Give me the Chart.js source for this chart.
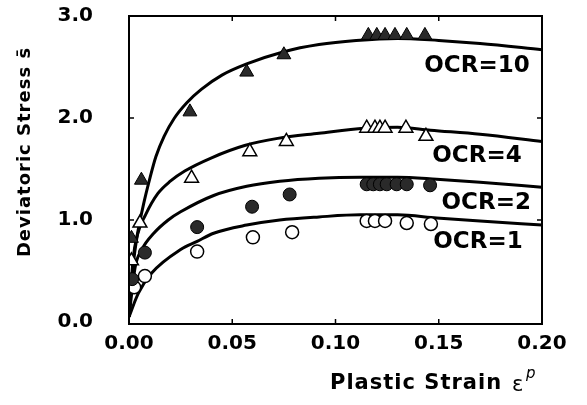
<!DOCTYPE html>
<html><head><meta charset="utf-8">
<script src="https://cdn.jsdelivr.net/npm/chart.js@4.4.1/dist/chart.umd.min.js"></script>
<style>html,body{margin:0;padding:0;background:#fff}#wrap{width:587px;height:405px;position:relative}</style>
</head><body><div id="wrap"><canvas id="c" width="587" height="405"></canvas></div>
<script>
// Tick labels
const xTicks = [0, 0.05, 0.10, 0.15, 0.20];
const yTicks = [0, 1, 2, 3];

// Measured points (symbols)
const ocr10PtsX = [0.0012, 0.006, 0.0295, 0.057, 0.075, 0.1159, 0.120, 0.124, 0.1288, 0.1345, 0.1433];
const ocr10PtsY = [0.82, 1.39, 2.06, 2.45, 2.62, 2.81, 2.81, 2.81, 2.81, 2.81, 2.81];
const ocr4PtsX = [0.0012, 0.0053, 0.0303, 0.0585, 0.0762, 0.1151, 0.1191, 0.1215, 0.124, 0.1341, 0.1438];
const ocr4PtsY = [0.60, 0.97, 1.41, 1.67, 1.77, 1.90, 1.90, 1.90, 1.90, 1.90, 1.82];
const ocr2PtsX = [0.0015, 0.0077, 0.033, 0.0596, 0.0778, 0.1151, 0.1183, 0.1215, 0.1248, 0.1296, 0.1345, 0.1458];
const ocr2PtsY = [0.42, 0.68, 0.93, 1.13, 1.25, 1.35, 1.35, 1.35, 1.35, 1.35, 1.35, 1.34];
const ocr1PtsX = [0.0025, 0.0077, 0.033, 0.060, 0.079, 0.1151, 0.1191, 0.124, 0.1345, 0.1462];
const ocr1PtsY = [0.34, 0.45, 0.69, 0.83, 0.88, 0.99, 0.99, 0.99, 0.97, 0.96];

// Model curves
const ocr10CurveX = [0, 0.002, 0.004, 0.007, 0.010, 0.013, 0.017, 0.022, 0.028, 0.035, 0.045, 0.057, 0.075, 0.092, 0.110, 0.130, 0.150, 0.170, 0.200];
const ocr10CurveY = [0.05, 0.55, 0.85, 1.15, 1.40, 1.62, 1.82, 2.00, 2.15, 2.28, 2.42, 2.53, 2.65, 2.72, 2.76, 2.78, 2.76, 2.73, 2.67];
const ocr4CurveX = [0, 0.002, 0.004, 0.008, 0.014, 0.020, 0.027, 0.040, 0.056, 0.072, 0.092, 0.114, 0.130, 0.146, 0.170, 0.200];
const ocr4CurveY = [0.05, 0.62, 0.85, 1.05, 1.26, 1.38, 1.48, 1.61, 1.73, 1.80, 1.85, 1.90, 1.91, 1.88, 1.84, 1.77];
const ocr2CurveX = [0, 0.003, 0.0062, 0.012, 0.019, 0.025, 0.041, 0.057, 0.073, 0.092, 0.112, 0.130, 0.149, 0.170, 0.200];
const ocr2CurveY = [0.05, 0.54, 0.71, 0.87, 1.00, 1.08, 1.24, 1.33, 1.38, 1.41, 1.42, 1.42, 1.40, 1.37, 1.32];
const ocr1CurveX = [0, 0.0045, 0.011, 0.025, 0.033, 0.041, 0.057, 0.073, 0.092, 0.112, 0.130, 0.149, 0.170, 0.200];
const ocr1CurveY = [0.05, 0.28, 0.48, 0.71, 0.79, 0.87, 0.95, 1.00, 1.03, 1.05, 1.05, 1.02, 0.99, 0.95];

const seriesLabels = ['OCR=10', 'OCR=4', 'OCR=2', 'OCR=1'];

const zip = (xs, ys) => xs.map((x, i) => ({x, y: ys[i]}));
const FONT = "'DejaVu Sans', sans-serif";

function curve(xs, ys) {
  return {type: 'line', data: zip(xs, ys), showLine: true, pointRadius: 0, borderColor: '#000', borderWidth: 3,
    tension: 0.4, cubicInterpolationMode: 'monotone', fill: false, order: 2};
}
function pts(xs, ys, style, filled, r) {
  return {type: 'scatter', data: zip(xs, ys), showLine: false, pointStyle: style, pointRadius: r,
    pointBackgroundColor: filled ? '#2a2a2a' : '#fff', pointBorderColor: '#000', pointBorderWidth: filled ? 1 : 1.5, order: 1};
}

const decor = {
  id: 'decor',
  afterDraw(chart) {
    const ctx = chart.ctx, a = chart.chartArea, xs = chart.scales.x, ys = chart.scales.y;
    ctx.save();
    ctx.strokeStyle = '#000'; ctx.lineWidth = 2;
    ctx.strokeRect(a.left, a.top, a.right - a.left, a.bottom - a.top);
    ctx.lineWidth = 1.5;
    [0.05, 0.10, 0.15].forEach(v => {
      const p = xs.getPixelForValue(v);
      ctx.beginPath(); ctx.moveTo(p, a.bottom); ctx.lineTo(p, a.bottom - 5);
      ctx.moveTo(p, a.top); ctx.lineTo(p, a.top + 5); ctx.stroke();
    });
    [1, 2].forEach(v => {
      const p = ys.getPixelForValue(v);
      ctx.beginPath(); ctx.moveTo(a.left, p); ctx.lineTo(a.left + 5, p);
      ctx.moveTo(a.right, p); ctx.lineTo(a.right - 5, p); ctx.stroke();
    });
    // series labels
    ctx.fillStyle = '#000';
    ctx.font = 'bold 23px ' + FONT;
    ctx.textAlign = 'center'; ctx.textBaseline = 'middle';
    const lp = [[0.1685, 2.51], [0.1685, 1.63], [0.173, 1.17], [0.169, 0.78]];
    seriesLabels.forEach((t, i) => ctx.fillText(t, xs.getPixelForValue(lp[i][0]), ys.getPixelForValue(lp[i][1])));
    // y title
    ctx.save();
    ctx.translate(25, 152); ctx.rotate(-Math.PI / 2);
    ctx.font = 'bold 18px ' + FONT;
    try { ctx.letterSpacing = '1px'; } catch (e) {}
    ctx.fillText('Deviatoric Stress s\u0304', 0, 0);
    ctx.restore();
    // x title
    ctx.font = 'bold 21px ' + FONT;
    try { ctx.letterSpacing = '1px'; } catch (e) {}
    ctx.textAlign = 'left';
    ctx.fillText('Plastic Strain', 330, 384);
    try { ctx.letterSpacing = '0px'; } catch (e) {}
    ctx.font = '21px ' + FONT;
    ctx.fillText('\u03b5', 512, 386);
    ctx.font = 'italic 15px ' + FONT;
    ctx.fillText('p', 526, 374);
    ctx.restore();
  }
};

new Chart(document.getElementById('c'), {
  type: 'scatter',
  data: {
    datasets: [
      curve(ocr10CurveX, ocr10CurveY), curve(ocr4CurveX, ocr4CurveY),
      curve(ocr2CurveX, ocr2CurveY), curve(ocr1CurveX, ocr1CurveY),
      pts(ocr10PtsX, ocr10PtsY, 'triangle', true, 8), pts(ocr4PtsX, ocr4PtsY, 'triangle', false, 8),
      pts(ocr2PtsX, ocr2PtsY, 'circle', true, 6.5), pts(ocr1PtsX, ocr1PtsY, 'circle', false, 6.5)
    ]
  },
  options: {
    responsive: false, animation: false, devicePixelRatio: 1,
    layout: {padding: {top: 16, right: 45, left: 0, bottom: 0}},
    plugins: {legend: {display: false}, tooltip: {enabled: false}},
    scales: {
      x: {type: 'linear', position: 'bottom', min: 0, max: 0.2,
        afterBuildTicks: s => { s.ticks = xTicks.map(v => ({value: v})); },
        afterFit: s => { s.height = 81; s.paddingLeft = 0; s.paddingRight = 0; },
        ticks: {autoSkip: false, maxRotation: 0, padding: 8, color: '#000',
          font: {family: FONT, weight: 'bold', size: 20}, callback: v => Number(v).toFixed(2)},
        grid: {display: false, drawTicks: false}, border: {display: false}},
      y: {type: 'linear', position: 'left', min: -0.02, max: 3,
        afterBuildTicks: s => { s.ticks = yTicks.map(v => ({value: v})); },
        afterFit: s => { s.width = 129; s.paddingTop = 0; s.paddingBottom = 0; },
        ticks: {autoSkip: false, padding: 36, color: '#000',
          font: {family: FONT, weight: 'bold', size: 20}, callback: v => Number(v).toFixed(1)},
        grid: {display: false, drawTicks: false}, border: {display: false}}
    }
  },
  plugins: [decor]
});
</script></body></html>
